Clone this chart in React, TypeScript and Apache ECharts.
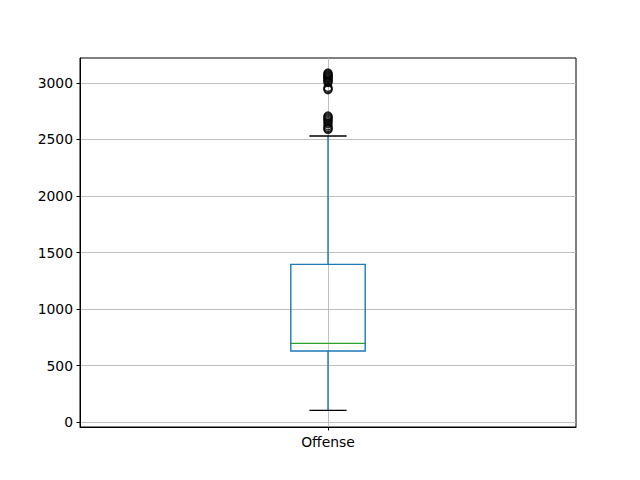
import React, { useEffect, useRef } from "react";
import * as echarts from "echarts";

const categories = ["Offense"];
// [position, lowerWhisker, Q1, median, Q3, upperWhisker]
const boxStats = [[1, 103, 628, 696, 1395, 2531]];
const outliers = [3088, 3080, 3072, 3065, 3058, 3050, 3042, 3035, 3025, 3015, 3005, 2960, 2950, 2940, 2708, 2700, 2690, 2680, 2668, 2655, 2640, 2620, 2605, 2595, 2588];
const yTicks = [0, 500, 1000, 1500, 2000, 2500, 3000];

const FONT = "DejaVu Sans";
const BLUE = "#1f77b4";
const GREEN = "#2ca02c";

export default function App() {
  const ref = useRef<HTMLDivElement>(null);
  useEffect(() => {
    const chart = echarts.init(ref.current!, null, { renderer: "svg" });
    chart.setOption({
      animation: false,
      grid: {
        left: 80,
        right: 64,
        top: 58,
        bottom: 53,
        show: true,
        borderColor: "#000",
        borderWidth: 1,
        backgroundColor: "transparent",
      },
      xAxis: {
        type: "value",
        min: 0.5,
        max: 1.5,
        axisLine: { show: true, onZero: false, lineStyle: { color: "#000", width: 1 } },
        axisTick: { show: true, inside: false, length: 3.5, customValues: [1], lineStyle: { color: "#000" } },
        axisLabel: {
          customValues: [1],
          margin: 8,
          color: "#000",
          fontFamily: FONT,
          fontSize: 13.9,
          formatter: (v: number) => categories[Math.round(v) - 1] ?? "",
        },
        splitLine: { show: true, lineStyle: { color: "#b0b0b0", width: 0.8 } },
      },
      yAxis: {
        type: "value",
        min: -44,
        max: 3221,
        axisLine: { show: true, onZero: false, lineStyle: { color: "#000", width: 1 } },
        axisTick: { show: true, inside: false, length: 3.5, customValues: yTicks, lineStyle: { color: "#000" } },
        axisLabel: {
          customValues: yTicks,
          margin: 7,
          color: "#000",
          fontFamily: FONT,
          fontSize: 13.9,
          formatter: (v: number) => String(v),
        },
        splitLine: { show: true, lineStyle: { color: "#b0b0b0", width: 0.8 } },
      },
      series: [
        {
          type: "custom",
          data: boxStats,
          z: 3,
          renderItem: (params: any, api: any) => {
            const x = api.value(0);
            const lo = api.value(1);
            const q1 = api.value(2);
            const med = api.value(3);
            const q3 = api.value(4);
            const hi = api.value(5);
            const pLeft = api.coord([x - 0.075, q3]);
            const pRight = api.coord([x + 0.075, q1]);
            const cLeft = api.coord([x - 0.0375, lo])[0];
            const cRight = api.coord([x + 0.0375, lo])[0];
            const cx = api.coord([x, lo])[0];
            const yLo = api.coord([x, lo])[1];
            const yQ1 = api.coord([x, q1])[1];
            const yMed = api.coord([x, med])[1];
            const yQ3 = api.coord([x, q3])[1];
            const yHi = api.coord([x, hi])[1];
            const st = (c: string) => ({ stroke: c, lineWidth: 1.4, fill: "none" });
            return {
              type: "group",
              children: [
                { type: "line", shape: { x1: cx, y1: yQ1, x2: cx, y2: yLo }, style: st(BLUE) },
                { type: "line", shape: { x1: cx, y1: yQ3, x2: cx, y2: yHi }, style: st(BLUE) },
                { type: "line", shape: { x1: cLeft, y1: yLo, x2: cRight, y2: yLo }, style: st("#000") },
                { type: "line", shape: { x1: cLeft, y1: yHi, x2: cRight, y2: yHi }, style: st("#000") },
                {
                  type: "rect",
                  shape: { x: pLeft[0], y: pLeft[1], width: pRight[0] - pLeft[0], height: pRight[1] - pLeft[1] },
                  style: st(BLUE),
                },
                { type: "line", shape: { x1: pLeft[0], y1: yMed, x2: pRight[0], y2: yMed }, style: st(GREEN) },
              ],
            };
          },
        },
        {
          type: "scatter",
          data: outliers.map((v) => [1, v]),
          symbol: "circle",
          symbolSize: 8,
          z: 4,
          itemStyle: { color: "none", borderColor: "#000", borderWidth: 1.4 },
        },
      ],
    });
    return () => chart.dispose();
  }, []);
  return (
    <div
      ref={ref}
      style={{ position: "fixed", left: 0, top: 0, width: 640, height: 480, background: "#fff" }}
    />
  );
}
